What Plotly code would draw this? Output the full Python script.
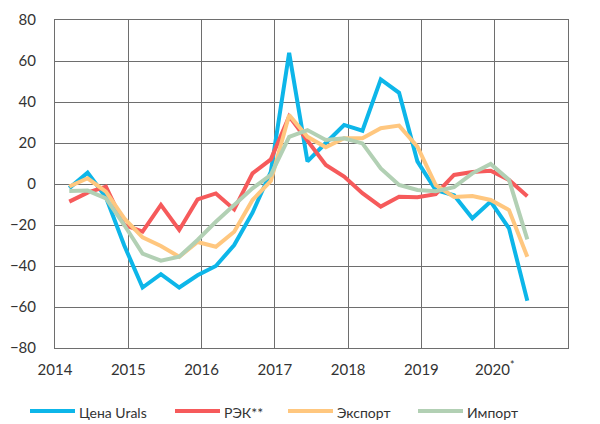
import plotly.graph_objects as go

# Quarterly periods 2014Q1 .. 2020Q2
years = [2014]*4 + [2015]*4 + [2016]*4 + [2017]*4 + [2018]*4 + [2019]*4 + [2020]*2
quarters = [1, 2, 3, 4]*6 + [1, 2]

urals = [-2, 5.5, -6.5, -30, -50.5, -44, -50.5, -44.5, -40, -29.8, -14, 6,
         64, 11, 20, 28.8, 26, 51, 44.5, 11, -3, -5.5, -16.7, -8.6, -21.6, -57]
rek = [-8.6, -4.2, -1.3, -20, -23.2, -10.2, -22.4, -7.5, -4.6, -12.4, 5.2, 12,
       33, 21.5, 9.3, 3.6, -4.5, -11, -6.2, -6.5, -5, 4.4, 5.8, 6.5, 2, -6]
export = [-1.2, 2.8, -3.7, -16.8, -26, -30.2, -35.5, -28.3, -30.6, -23.3, -7.8, 1.5,
          33.7, 23, 17.9, 22.3, 22.3, 27.2, 28.5, 18.2, -0.5, -6.3, -5.9, -7.8, -12.7, -35.5]
imports = [-3.4, -3.2, -7, -20, -34, -37.4, -35.5, -27.3, -18.4, -10.2, -2.1, 4.4,
           23, 26.3, 21.5, 22.3, 19.8, 7.6, -0.5, -2.9, -3.5, -1.5, 5.2, 9.8, 2, -27]

names = ["Цена Urals", "РЭК**", "Экспорт", "Импорт"]
colors = ["#0DB6E9", "#F65A5B", "#FFC77F", "#B2D0B4"]
series = [urals, rek, export, imports]

tick_years = [2014, 2015, 2016, 2017, 2018, 2019, 2020]
tick_text = ["2014", "2015", "2016", "2017", "2018", "2019", "2020<sup>*</sup>"]

OFFSET = 0.78  # position of a point inside its quarter
x = [y + (q - 1 + OFFSET) / 4 for y, q in zip(years, quarters)]

fig = go.Figure()
for name, col, vals in zip(names, colors, series):
    fig.add_trace(go.Scatter(x=x, y=vals, name=name, mode="lines",
                             line=dict(color=col, width=4), showlegend=False))

# The page body has an 8px margin; size the figure so it fits the window.
PAGE = 8
FW, FH = 600 - PAGE, 424 - PAGE
L, T = 55 - PAGE, 20 - PAGE
PW, PH = 513, 328
R, B = FW - L - PW, FH - T - PH

def px_x(p):  # window pixel -> paper x
    return (p - PAGE - L) / PW

def px_y(p):  # window pixel -> paper y
    return (T + PH - (p - PAGE)) / PH

legend_line_starts = [30, 175, 288, 418]
legend_line_len = 45
legend_y = 411
for name, col, sx in zip(names, colors, legend_line_starts):
    fig.add_shape(type="line", xref="paper", yref="paper",
                  x0=px_x(sx), x1=px_x(sx + legend_line_len),
                  y0=px_y(legend_y), y1=px_y(legend_y),
                  line=dict(color=col, width=4))
    fig.add_annotation(xref="paper", yref="paper",
                       x=px_x(sx + legend_line_len + 2), y=px_y(legend_y + 1),
                       text=name, showarrow=False, xanchor="left", yanchor="middle",
                       font=dict(size=14, color="#333333"))

font_family = "Lato, 'Noto Sans', sans-serif"
fig.update_layout(
    width=FW, height=FH,
    margin=dict(l=L, r=R, t=T, b=B),
    paper_bgcolor="white", plot_bgcolor="white",
    font=dict(family=font_family, size=15, color="#333333"),
    showlegend=False,
    xaxis=dict(range=[2014, 2021], tickvals=tick_years, ticktext=tick_text,
               showgrid=True, gridcolor="#6e6e6e", gridwidth=1,
               showline=True, linecolor="#6e6e6e", linewidth=1, mirror=True,
               zeroline=False, ticks="", tickfont=dict(size=15),
               ticklabelstandoff=8, automargin=False),
    yaxis=dict(range=[-80, 80], dtick=20, showgrid=True, gridcolor="#6e6e6e",
               gridwidth=1, showline=True, linecolor="#6e6e6e", linewidth=1,
               mirror=True, zeroline=False, ticks="", ticklabelstandoff=15,
               tickfont=dict(size=15), automargin=False),
)

fig.write_html("out.html")
